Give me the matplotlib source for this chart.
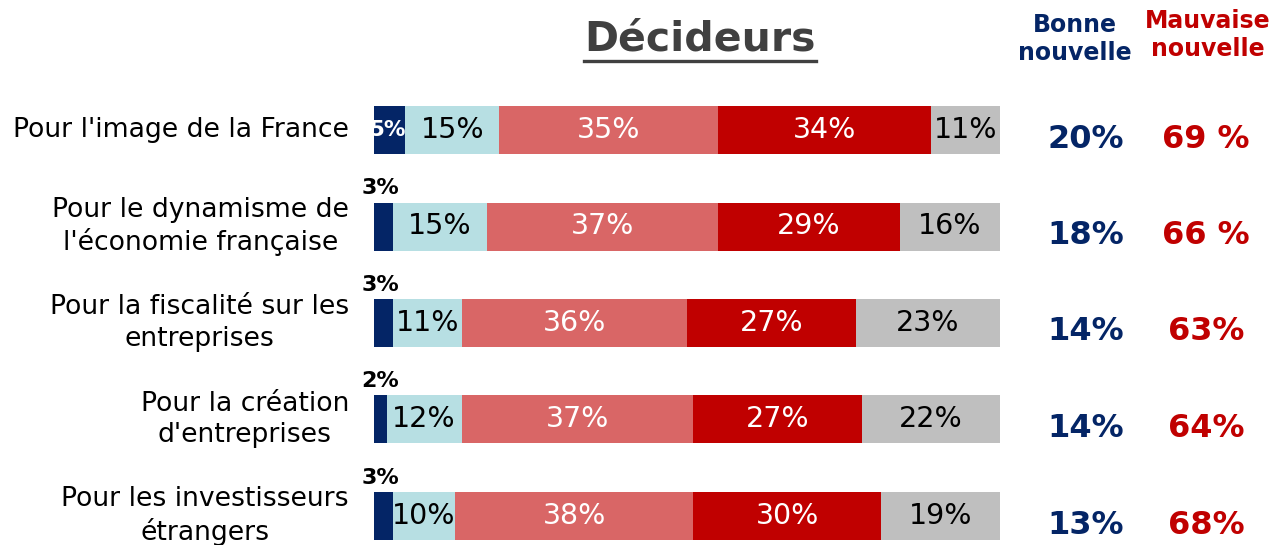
import matplotlib
matplotlib.use("Agg")
import matplotlib.pyplot as plt
from matplotlib.lines import Line2D

categories = ["Pour l'image de la France",
              "Pour le dynamisme de\nl'économie française",
              "Pour la fiscalité sur les\nentreprises",
              "Pour la création\nd'entreprises",
              "Pour les investisseurs\nétrangers"]
tres_bonne = [5, 3, 3, 2, 3]
plutot_bonne = [15, 15, 11, 12, 10]
plutot_mauvaise = [35, 37, 36, 37, 38]
tres_mauvaise = [34, 29, 27, 27, 30]
nsp = [11, 16, 23, 22, 19]
bonne_total = ["20%", "18%", "14%", "14%", "13%"]
mauvaise_total = ["69 %", "66 %", "63%", "64%", "68%"]

title = "Décideurs"
head_bonne = "Bonne\nnouvelle"
head_mauvaise = "Mauvaise\nnouvelle"

NAVY = "#042566"
LIGHT = "#B7DFE3"
PINK = "#D96666"
RED = "#C00000"
GREY = "#BFBFBF"

plt.rcParams['font.family'] = ['DejaVu Sans']

W, H = 1276, 545
fig = plt.figure(figsize=(W / 100, H / 100), dpi=100)
x0, x1 = 374, 1000
ax = fig.add_axes([x0 / W, 0, (x1 - x0) / W, 1])
step = 96.5
top_center = 130
ax.set_ylim((H - top_center) / step, -top_center / step)
ax.set_xlim(0, 100)
ax.axis('off')

def px2x(px):
    return (px - x0) / (x1 - x0) * 100

series = [tres_bonne, plutot_bonne, plutot_mauvaise, tres_mauvaise, nsp]
colors = [NAVY, LIGHT, PINK, RED, GREY]
txtcol = ['white', 'black', 'white', 'white', 'black']
bh = 48 / step
n = len(categories)
left = [0.0] * n
for s, (vals, c, tc) in enumerate(zip(series, colors, txtcol)):
    ax.barh(range(n), vals, left=left, height=bh, color=c, edgecolor='none')
    for i, v in enumerate(vals):
        cx = left[i] + v / 2
        if s == 0:
            if v >= 5:
                ax.text(cx - 0.4, i, f"{v}%", color='white', fontsize=15.5, fontweight='bold',
                        ha='center', va='center')
            else:
                ax.text(px2x(380), i - bh / 2 - 4 / step, f"{v}%", color='black',
                        fontsize=16, fontweight='bold', ha='center', va='bottom',
                        clip_on=False)
        else:
            ax.text(cx, i, f"{v}%", color=tc, fontsize=20.5, ha='center', va='center')
    left = [l + v for l, v in zip(left, vals)]

for i, cat in enumerate(categories):
    ax.text(px2x(349), i, cat, ha='right', va='center', multialignment='center',
            fontsize=19.2, color='black', clip_on=False, linespacing=1.25)
    ax.text(px2x(1086), i + 9 / step, bonne_total[i], ha='center', va='center',
            fontsize=23, fontweight='bold', color=NAVY, clip_on=False)
    ax.text(px2x(1206), i + 9 / step, mauvaise_total[i], ha='center', va='center',
            fontsize=23, fontweight='bold', color=RED, clip_on=False)

fig.text(1075 / W, 1 - 39 / H, head_bonne, ha='center', va='center', fontsize=17,
         fontweight='bold', color=NAVY, linespacing=1.2)
fig.text(1208 / W, 1 - 35 / H, head_mauvaise, ha='center', va='center', fontsize=17,
         fontweight='bold', color=RED, linespacing=1.2)

t = fig.text(700 / W, 1 - 39 / H, title, ha='center', va='center', fontsize=29.5,
             fontweight='bold', color='#404040')
fig.canvas.draw()
bb = t.get_window_extent()
fig.add_artist(Line2D([bb.x0 / W, bb.x1 / W], [1 - 60.5 / H, 1 - 60.5 / H],
                      transform=fig.transFigure, color='#404040', linewidth=2.4))

fig.savefig("out.png", dpi=100)
